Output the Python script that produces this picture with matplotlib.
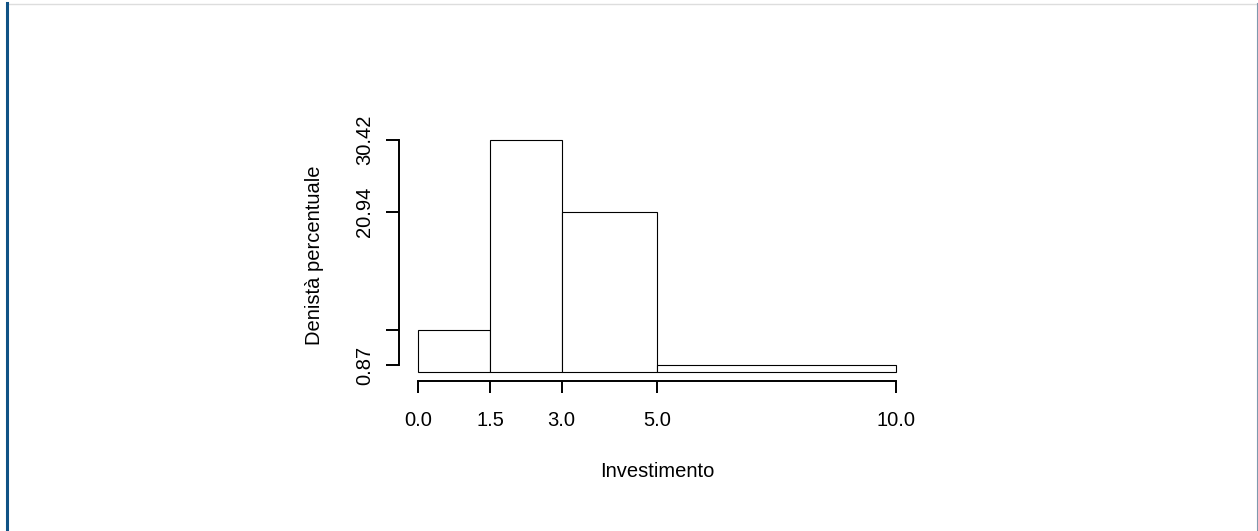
import matplotlib
matplotlib.use('Agg')
import matplotlib.pyplot as plt
from matplotlib.lines import Line2D
import numpy as np

# histogram data (percent density)
breaks = [0.0, 1.5, 3.0, 5.0, 10.0]
density = [5.43, 30.42, 20.94, 0.87]
xtick_vals = [0.0, 1.5, 3.0, 5.0, 10.0]
xtick_labels = ['0.0', '1.5', '3.0', '5.0', '10.0']
ytick_vals = [0.87, 5.43, 20.94, 30.42]
ytick_labels = ['0.87', '', '20.94', '30.42']

plt.rcParams['font.family'] = ['Liberation Sans', 'DejaVu Sans']
FS = 14.5

W, H = 1258, 531
fig = plt.figure(figsize=(W / 100, H / 100), dpi=100)
fig.patch.set_facecolor('white')

# axes placed in pixel coordinates
x0, x1 = 418.3, 896.3
y_top, y_zero = 140.0, 371.6
ax = fig.add_axes([x0 / W, 1 - y_zero / H, (x1 - x0) / W, (y_zero - y_top) / H])
ax.set_xlim(0, 10)
ax.set_ylim(0, 30.42)
ax.patch.set_alpha(0)

left = np.array(breaks[:-1])
widths = np.diff(breaks)
ax.bar(left, density, width=widths, align='edge', facecolor='white',
       edgecolor='black', linewidth=0.8, clip_on=False)

for s in ['top', 'right']:
    ax.spines[s].set_visible(False)
ax.spines['left'].set_position(('outward', 13.9))
ax.spines['bottom'].set_position(('outward', 6.6))
ax.spines['left'].set_bounds(min(ytick_vals), max(ytick_vals))
ax.spines['bottom'].set_bounds(min(xtick_vals), max(xtick_vals))
ax.spines['left'].set_linewidth(1.4)
ax.spines['bottom'].set_linewidth(1.4)

ax.set_xticks(xtick_vals)
ax.set_xticklabels(xtick_labels, fontsize=FS)
ax.set_yticks(ytick_vals)
ax.set_yticklabels(ytick_labels, fontsize=FS, rotation=90, va='center')
ax.tick_params(axis='x', length=8.6, width=1.4, pad=13.5)
ax.tick_params(axis='y', length=9.4, width=1.4, pad=8.4)

fig.text(657.3 / W, 1 - 477.3 / H, 'Investimento', fontsize=FS,
         ha='center', va='baseline')
fig.text(314.5 / W, 1 - 255.0 / H, 'Denistà percentuale', fontsize=FS,
         ha='center', va='center', rotation=90)

# page frame
fig.add_artist(Line2D([8 / W, 1256 / W], [1 - 3.5 / H, 1 - 3.5 / H],
                      transform=fig.transFigure, color='#dddddd', linewidth=1))
fig.add_artist(Line2D([7.3 / W, 7.3 / W], [0, 1 - 3 / H],
                      transform=fig.transFigure, color='#0f5285', linewidth=2.2))
fig.add_artist(Line2D([1257 / W, 1257 / W], [0, 1 - 3 / H],
                      transform=fig.transFigure, color='#7f98ad', linewidth=0.8))

fig.savefig('out.png', dpi=100)
